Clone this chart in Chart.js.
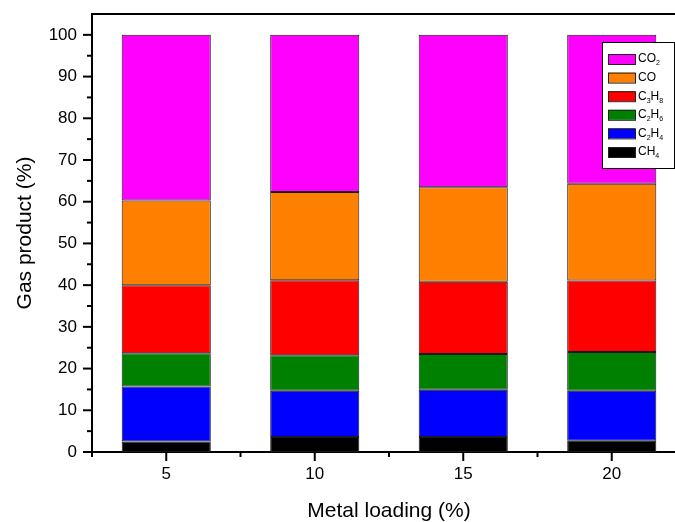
<!DOCTYPE html>
<html>
<head>
<meta charset="utf-8">
<script src="https://cdn.jsdelivr.net/npm/chart.js@4"></script>
<style>
  html, body { margin: 0; padding: 0; background: #fff; overflow: hidden; }
  #wrap { position: absolute; left: 0; top: 0; width: 700px; height: 522px; }
</style>
</head>
<body>
<div id="wrap"><canvas id="c" width="700" height="522"></canvas></div>
<script>
// Metal loading categories (%)
const loadings = ['5', '10', '15', '20'];

// Gas product distribution (%) per loading, bottom to top of each stack
const gasNames = ['CH4', 'C2H4', 'C2H6', 'C3H8', 'CO', 'CO2'];
const ch4  = [2.5, 3.6, 3.6, 2.7];
const c2h4 = [13.2, 11.1, 11.3, 12.0];
const c2h6 = [8.0, 8.5, 8.6, 9.3];
const c3h8 = [16.3, 17.95, 17.3, 17.1];
const co   = [20.3, 21.2, 22.65, 23.2];
const co2  = [39.7, 37.65, 36.55, 35.7];
const seriesValues = [ch4, c2h4, c2h6, c3h8, co, co2];
const gasColors = ['#000000', '#0000FF', '#008000', '#FF0000', '#FF8000', '#FF00FF'];

const FONT = "'Liberation Sans', Arial, sans-serif";

// Draws a chemical formula with digits as subscripts; returns the end x.
function drawFormula(ctx, text, x, yMid, size) {
  ctx.textBaseline = 'middle';
  ctx.textAlign = 'left';
  for (const ch of text) {
    if (/[0-9]/.test(ch)) {
      ctx.font = Math.round(size * 0.6) + 'px ' + FONT;
      ctx.fillText(ch, x, yMid + size * 0.38);
    } else {
      ctx.font = size + 'px ' + FONT;
      ctx.fillText(ch, x, yMid);
    }
    x += ctx.measureText(ch).width;
  }
  return x;
}

// Axis decorations: major/minor tick marks, top frame line and the boxed legend.
const decorations = {
  id: 'decorations',
  afterDraw(chart) {
    const ctx = chart.ctx;
    const area = chart.chartArea;
    const xs = chart.scales.x, ys = chart.scales.y;
    ctx.save();
    ctx.strokeStyle = '#000';
    ctx.lineWidth = 2;
    ctx.lineCap = 'butt';

    // top frame line
    ctx.beginPath();
    ctx.moveTo(area.left - 1, area.top);
    ctx.lineTo(area.right, area.top);
    ctx.stroke();

    // y ticks: major every 10, minor every 5
    for (let v = 0; v <= 100; v += 5) {
      const y = ys.getPixelForValue(v);
      const len = (v % 10 === 0) ? 9 : 5;
      ctx.beginPath();
      ctx.moveTo(area.left - len, y);
      ctx.lineTo(area.left, y);
      ctx.stroke();
    }
    // x ticks: major at categories, minor at category boundaries
    for (let i = 0; i < loadings.length; i++) {
      const x = xs.getPixelForValue(i);
      ctx.beginPath();
      ctx.moveTo(x, area.bottom);
      ctx.lineTo(x, area.bottom + 9);
      ctx.stroke();
    }
    for (let i = 0; i <= loadings.length; i++) {
      const x = xs.getPixelForValue(i - 0.5);
      ctx.beginPath();
      ctx.moveTo(x, area.bottom);
      ctx.lineTo(x, area.bottom + 5);
      ctx.stroke();
    }

    // legend box
    const bx = area.right - 84, by = area.top + 28, bw = 72, bh = 126;
    ctx.fillStyle = '#fff';
    ctx.fillRect(bx, by, bw, bh);
    ctx.lineWidth = 1;
    ctx.strokeStyle = '#000';
    ctx.strokeRect(bx + 0.5, by + 0.5, bw, bh);
    const n = chart.data.datasets.length;
    for (let k = 0; k < n; k++) {
      const ds = chart.data.datasets[n - 1 - k];
      const yMid = by + 17 + k * 18.6;
      ctx.fillStyle = ds.backgroundColor;
      ctx.fillRect(bx + 6, yMid - 5, 27, 10);
      ctx.strokeStyle = '#222';
      ctx.strokeRect(bx + 6.5, yMid - 4.5, 27, 10);
      ctx.fillStyle = '#000';
      drawFormula(ctx, ds.label, bx + 36, yMid, 12);
    }
    ctx.restore();
  }
};

const datasets = gasNames.map((name, i) => ({
  label: name,
  data: seriesValues[i],
  backgroundColor: gasColors[i],
  borderColor: '#1a1a1a',
  borderWidth: 1,
  borderSkipped: false,
  barPercentage: 0.6,
  categoryPercentage: 1.0
}));

new Chart(document.getElementById('c'), {
  type: 'bar',
  data: { labels: loadings, datasets },
  plugins: [decorations],
  options: {
    responsive: false,
    animation: false,
    layout: { padding: { top: 14, right: 14, left: 0, bottom: 0 } },
    plugins: { legend: { display: false }, tooltip: { enabled: false } },
    scales: {
      x: {
        stacked: true,
        offset: true,
        grid: { display: false, drawTicks: false },
        border: { display: true, color: '#000', width: 2 },
        ticks: { color: '#000', font: { family: FONT, size: 17 }, padding: 12 },
        title: {
          display: true, text: 'Metal loading (%)', color: '#000',
          font: { family: FONT, size: 21, lineHeight: 1 }, padding: { top: 0, bottom: 0 }
        },
        afterFit(scale) {
          scale.height = 70;
          scale.paddingLeft = 0;
          scale.paddingRight = 0;
        }
      },
      y: {
        stacked: true,
        min: 0, max: 105,
        grid: { display: false, drawTicks: false },
        border: { display: true, color: '#000', width: 2 },
        ticks: {
          stepSize: 10, includeBounds: false, color: '#000',
          font: { family: FONT, size: 17 }, padding: 15
        },
        title: {
          display: true, text: 'Gas product (%)', color: '#000',
          font: { family: FONT, size: 21 }, padding: { top: 13, bottom: 0 }
        },
        afterFit(scale) {
          scale.width = 92;
          scale.paddingTop = 0;
          scale.paddingBottom = 0;
        }
      }
    }
  }
});
</script>
</body>
</html>
